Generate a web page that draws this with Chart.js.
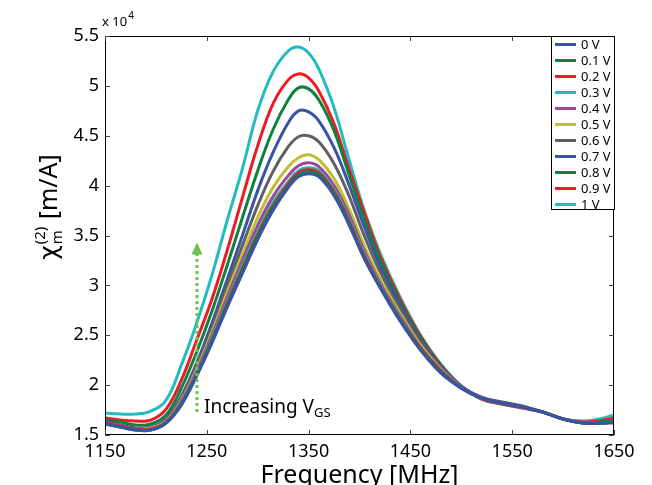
<!DOCTYPE html>
<html>
<head>
<meta charset="utf-8">
<script src="https://cdn.jsdelivr.net/npm/chart.js@4"></script>
<style>
  html, body { margin: 0; padding: 0; background: #fff; }
  canvas { display: block; }
</style>
</head>
<body>
<canvas id="chart" width="652" height="485"></canvas>
<script>
// frequency axis [MHz]
const FREQ = [1150, 1165, 1180, 1195, 1210, 1225, 1240, 1255, 1270, 1285, 1300, 1315, 1330, 1340, 1350, 1360,
              1375, 1390, 1405, 1420, 1440, 1460, 1480, 1500, 1520, 1540, 1560, 1580, 1600, 1620, 1635, 1650];

// chi_m^(2) in units of 1e4 m/A, one array per gate voltage
const V0   = [1.61,1.58,1.55,1.55,1.62,1.80,2.09,2.42,2.78,3.12,3.46,3.75,3.98,4.09,4.12,4.09,3.90,3.60,3.26,2.98,2.64,2.35,2.12,1.97,1.87,1.82,1.78,1.73,1.66,1.62,1.62,1.62];
const V01  = [1.61,1.58,1.55,1.55,1.62,1.81,2.10,2.44,2.80,3.15,3.49,3.78,4.00,4.11,4.14,4.11,3.92,3.62,3.27,2.99,2.65,2.36,2.13,1.97,1.87,1.82,1.78,1.73,1.66,1.62,1.62,1.63];
const V02  = [1.62,1.59,1.56,1.56,1.63,1.82,2.11,2.45,2.82,3.17,3.51,3.80,4.02,4.13,4.16,4.13,3.94,3.64,3.29,3.00,2.66,2.37,2.14,1.97,1.87,1.82,1.78,1.73,1.66,1.62,1.62,1.63];
const V03  = [1.62,1.59,1.56,1.56,1.63,1.83,2.12,2.47,2.84,3.20,3.54,3.83,4.04,4.15,4.18,4.15,3.96,3.66,3.31,3.01,2.67,2.37,2.14,1.97,1.87,1.82,1.78,1.73,1.66,1.62,1.62,1.63];
const V04  = [1.62,1.59,1.56,1.56,1.63,1.84,2.14,2.50,2.88,3.25,3.60,3.89,4.10,4.20,4.23,4.19,4.00,3.70,3.34,3.03,2.69,2.38,2.15,1.98,1.87,1.82,1.78,1.73,1.66,1.62,1.62,1.63];
const V05  = [1.62,1.59,1.56,1.57,1.64,1.85,2.16,2.53,2.93,3.31,3.68,3.98,4.19,4.28,4.31,4.26,4.07,3.76,3.39,3.07,2.72,2.40,2.16,1.98,1.87,1.82,1.78,1.73,1.66,1.62,1.62,1.63];
const V06  = [1.62,1.59,1.56,1.57,1.65,1.87,2.19,2.57,2.99,3.40,3.80,4.14,4.39,4.49,4.50,4.44,4.22,3.89,3.49,3.14,2.76,2.43,2.17,1.98,1.87,1.82,1.78,1.73,1.66,1.62,1.62,1.63];
const V07  = [1.63,1.60,1.57,1.58,1.66,1.89,2.22,2.62,3.06,3.50,3.95,4.33,4.63,4.75,4.74,4.65,4.38,4.00,3.58,3.20,2.80,2.45,2.19,1.99,1.88,1.83,1.79,1.73,1.66,1.62,1.62,1.63];
const V08  = [1.65,1.63,1.60,1.61,1.70,1.97,2.33,2.74,3.20,3.68,4.15,4.56,4.86,4.98,4.97,4.86,4.55,4.10,3.66,3.26,2.83,2.47,2.19,1.99,1.87,1.82,1.78,1.73,1.66,1.62,1.63,1.64];
const V09  = [1.67,1.65,1.64,1.65,1.76,2.05,2.45,2.86,3.35,3.88,4.40,4.82,5.06,5.12,5.08,4.95,4.62,4.16,3.72,3.30,2.86,2.49,2.20,1.99,1.86,1.81,1.77,1.73,1.66,1.63,1.64,1.67];
const V10  = [1.72,1.71,1.71,1.74,1.85,2.20,2.62,3.10,3.65,4.17,4.75,5.14,5.35,5.39,5.33,5.17,4.78,4.25,3.74,3.33,2.88,2.50,2.21,1.99,1.86,1.81,1.77,1.73,1.66,1.64,1.66,1.70];

const LABELS = ["0 V", "0.1 V", "0.2 V", "0.3 V", "0.4 V", "0.5 V", "0.6 V", "0.7 V", "0.8 V", "0.9 V", "1 V"];
const SERIES = [V0, V01, V02, V03, V04, V05, V06, V07, V08, V09, V10];
const COLORS = ["#3a53a4", "#10803f", "#ed1c24", "#22b8bf", "#9c479c", "#bfbf33", "#606060",
                "#3a53a4", "#10803f", "#ed1c24", "#22bcc0"];

const X_TICKS = [1150, 1250, 1350, 1450, 1550, 1650];
const Y_TICKS = [1.5, 2, 2.5, 3, 3.5, 4, 4.5, 5, 5.5];

// arrow annotation, data coordinates
const ARROW_X = 1240;
const ARROW_FROM = 1.73;
const ARROW_TO = 3.43;

const FONT = "'Noto Sans', 'DejaVu Sans', sans-serif";

const decorations = {
  id: "decorations",
  afterDraw(chart) {
    const ctx = chart.ctx;
    const a = chart.chartArea;
    const xs = chart.scales.x, ys = chart.scales.y;
    ctx.save();

    // box + inward ticks on all four sides
    ctx.strokeStyle = "#000";
    ctx.lineWidth = 1;
    ctx.strokeRect(a.left + 0.5, a.top + 0.5, a.right - a.left - 1, a.bottom - a.top - 1);
    ctx.strokeStyle = "#444";
    ctx.beginPath();
    X_TICKS.forEach(t => {
      const px = Math.round(xs.getPixelForValue(t)) + 0.5;
      ctx.moveTo(px, a.bottom); ctx.lineTo(px, a.bottom - 5);
      ctx.moveTo(px, a.top); ctx.lineTo(px, a.top + 5);
    });
    Y_TICKS.forEach(t => {
      const py = Math.round(ys.getPixelForValue(t)) + 0.5;
      ctx.moveTo(a.left, py); ctx.lineTo(a.left + 5, py);
      ctx.moveTo(a.right, py); ctx.lineTo(a.right - 5, py);
    });
    ctx.stroke();

    // exponent label
    ctx.fillStyle = "#000";
    ctx.textBaseline = "alphabetic";
    ctx.textAlign = "left";
    ctx.font = "13px " + FONT;
    ctx.fillText("x 10", a.left - 3, 26);
    const w10 = ctx.measureText("x 10").width;
    ctx.font = "10px " + FONT;
    ctx.fillText("4", a.left - 3 + w10 + 1, 19);

    // x title
    ctx.font = "25px " + FONT;
    ctx.textAlign = "center";
    ctx.fillText("Frequency [MHz]", (a.left + a.right) / 2, 483);

    // y title, rotated
    ctx.save();
    ctx.translate(57, 207);
    ctx.rotate(-Math.PI / 2);
    ctx.textAlign = "left";
    const CHI_FONT = "25px 'DejaVu Sans', sans-serif";
    ctx.font = CHI_FONT;
    const wChi = ctx.measureText("\u03c7").width;
    ctx.font = "15px " + FONT;
    const wSup = Math.max(ctx.measureText("(2)").width, ctx.measureText("m").width);
    ctx.font = "25px " + FONT;
    const wRest = ctx.measureText(" [m/A]").width;
    let x0 = -(wChi + wSup + 2 + wRest) / 2;
    ctx.font = CHI_FONT;
    ctx.fillText("\u03c7", x0, 0);
    ctx.font = "15px " + FONT;
    ctx.fillText("(2)", x0 + wChi + 1, -12);
    ctx.fillText("m", x0 + wChi + 1, 5);
    ctx.font = "25px " + FONT;
    ctx.fillText(" [m/A]", x0 + wChi + wSup + 2, 0);
    ctx.restore();

    // dotted arrow
    const ax = Math.round(xs.getPixelForValue(ARROW_X));
    const ay0 = ys.getPixelForValue(ARROW_FROM);
    const ay1 = ys.getPixelForValue(ARROW_TO);
    ctx.fillStyle = "#6cc24a";
    for (let y = ay0; y > ay1 + 12; y -= 6) {
      ctx.fillRect(ax - 1.5, y - 3, 3, 3);
    }
    ctx.beginPath();
    ctx.moveTo(ax, ay1);
    ctx.lineTo(ax - 5.5, ay1 + 12);
    ctx.lineTo(ax + 5.5, ay1 + 12);
    ctx.closePath();
    ctx.fill();

    // annotation text
    ctx.fillStyle = "#000";
    ctx.textAlign = "left";
    ctx.font = "19px " + FONT;
    const tx = ax + 7, ty = ay0 + 1;
    ctx.fillText("Increasing V", tx, ty);
    const wInc = ctx.measureText("Increasing V").width;
    ctx.font = "13px " + FONT;
    ctx.fillText("GS", tx + wInc, ty + 4);

    // legend box inside top-right corner
    const lx0 = 551, ly0 = a.top, lx1 = a.right + 1, ly1 = 210;
    ctx.fillStyle = "#fff";
    ctx.fillRect(lx0, ly0, lx1 - lx0, ly1 - ly0);
    ctx.strokeStyle = "#000";
    ctx.lineWidth = 1;
    ctx.strokeRect(lx0 + 0.5, ly0 + 0.5, lx1 - lx0 - 1, ly1 - ly0 - 1);
    ctx.font = "13px " + FONT;
    ctx.textBaseline = "middle";
    chart.data.datasets.forEach((ds, i) => {
      const cy = ly0 + 8.5 + i * 16;
      ctx.strokeStyle = ds.borderColor;
      ctx.lineWidth = 3;
      ctx.beginPath();
      ctx.moveTo(555, cy); ctx.lineTo(576, cy);
      ctx.stroke();
      ctx.fillStyle = "#000";
      ctx.fillText(ds.label, 581, cy + 1);
    });

    ctx.restore();
  }
};

const datasets = SERIES.map((vals, i) => ({
  label: LABELS[i],
  data: FREQ.map((f, j) => ({ x: f, y: vals[j] })),
  borderColor: COLORS[i],
  backgroundColor: COLORS[i],
  borderWidth: 3,
  pointRadius: 0,
  fill: false,
  tension: 0.4
}));

new Chart(document.getElementById("chart"), {
  type: "line",
  data: { datasets },
  options: {
    responsive: false,
    animation: false,
    devicePixelRatio: 1,
    layout: { padding: { top: 36, right: 38, left: 0, bottom: 0 } },
    plugins: {
      legend: { display: false },
      tooltip: { enabled: false },
      title: { display: false }
    },
    scales: {
      x: {
        type: "linear",
        min: 1150,
        max: 1650,
        afterFit: s => { s.height = 50; },
        afterBuildTicks: s => { s.ticks = X_TICKS.map(v => ({ value: v })); },
        grid: { display: false, drawTicks: false },
        border: { display: false },
        ticks: {
          padding: 6,
          color: "#000",
          maxRotation: 0,
          font: { family: FONT, size: 18 },
          callback: v => String(v)
        }
      },
      y: {
        type: "linear",
        min: 1.5,
        max: 5.5,
        afterFit: s => { s.width = 105; },
        afterBuildTicks: s => { s.ticks = Y_TICKS.map(v => ({ value: v })); },
        grid: { display: false, drawTicks: false },
        border: { display: false },
        ticks: {
          padding: 6,
          color: "#000",
          font: { family: FONT, size: 18 },
          callback: v => String(v)
        }
      }
    }
  },
  plugins: [decorations]
});
</script>
</body>
</html>
